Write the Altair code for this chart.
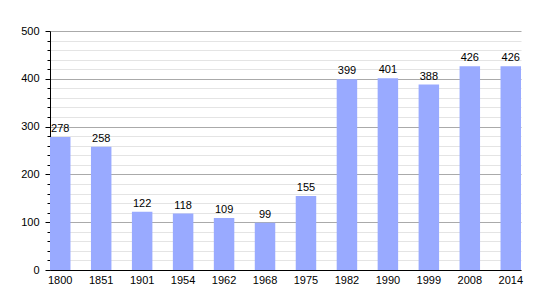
import altair as alt
import pandas as pd

years = ["1800", "1851", "1901", "1954", "1962", "1968", "1975", "1982", "1990", "1999", "2008", "2014"]
population = [278, 258, 122, 118, 109, 99, 155, 399, 401, 388, 426, 426]
tick_values = list(range(0, 501, 20))

df = pd.DataFrame({"year": years, "pop": population})

FONT = "Liberation Sans"

x = alt.X("year:N", sort=years, title=None,
          scale=alt.Scale(paddingInner=0.5, paddingOuter=0),
          axis=alt.Axis(labelAngle=0, ticks=False, domainColor="black",
                        labelFont=FONT, labelFontSize=11, labelColor="black",
                        labelPadding=4, grid=False))
y = alt.Y("pop:Q", title=None,
          scale=alt.Scale(domain=[0, 500], nice=False, zero=True),
          axis=alt.Axis(values=tick_values,
                        labelExpr="datum.value % 100 === 0 ? datum.label : ''",
                        domainColor="black",
                        tickColor="black",
                        tickSize={"condition": {"test": "datum.value % 100 === 0", "value": 5}, "value": 3},
                        gridColor={"condition": {"test": "datum.value % 100 === 0", "value": "#aaaaaa"}, "value": "#e4e4e4"},
                        labelFont=FONT, labelFontSize=11, labelColor="black",
                        labelPadding=6))

bars = alt.Chart(df).mark_bar(color="#99aaff").encode(x=x, y=y)
labels = alt.Chart(df).mark_text(baseline="bottom", dy=-3, font=FONT, fontSize=11, color="black").encode(
    x=x, y=y, text="pop:Q")

chart = alt.layer(bars, labels).properties(
    width=471, height=239,
    autosize=alt.AutoSizeParams(type="none"),
    padding={"left": 50, "top": 31, "right": 29, "bottom": 30},
).configure_view(stroke=None).configure_axis(domainWidth=1)

chart.save("out.html", embed_options={"renderer": "svg", "actions": False})
